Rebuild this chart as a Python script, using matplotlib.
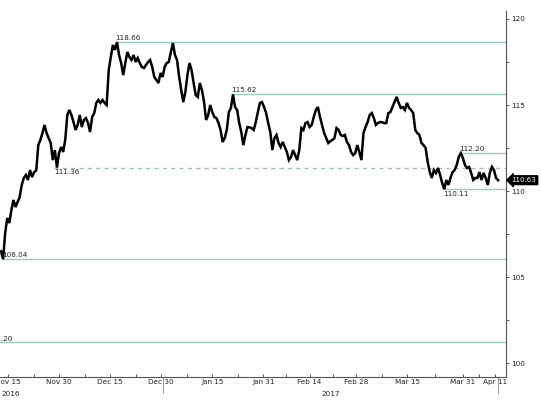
import numpy as np
import matplotlib
matplotlib.use("Agg")
import matplotlib.pyplot as plt
from matplotlib.ticker import FixedLocator, MultipleLocator
import matplotlib.transforms as mtransforms

# price trace, every half trading day (Nov 14 2016 -> Apr 12 2017)
precos = [
    106.5, 106.04, 107.56, 108.43, 108.14, 108.9, 109.48, 109.07, 109.36, 109.65,
    110.35, 110.76, 110.93, 110.64, 111.22, 110.81, 111.1, 111.2, 112.67, 112.97,
    113.37, 113.84, 113.37, 113.08, 112.79, 111.8, 112.38, 111.36, 112.2, 112.56,
    112.27, 112.97, 114.42, 114.71, 114.42, 114.0, 113.55, 113.84, 114.42, 113.72,
    114.13, 114.24, 113.95, 113.43, 114.3, 114.53, 115.12, 115.29, 115.12,
    # dezembro
    115.29, 115.12, 115.0, 117.03, 117.79, 118.49, 118.2, 118.66, 117.9, 117.44,
    116.74, 117.44, 118.08, 117.79, 117.62, 117.91, 117.5, 117.73, 117.44, 117.21,
    117.15, 117.33, 117.5, 117.62, 117.21, 116.63, 116.45, 116.28, 116.86, 116.63,
    117.21, 117.44, 117.5, 118.08, 118.6, 117.9, 117.62, 116.63, 115.87, 115.17,
    115.76, 116.74, 117.44, 117.03, 116.28, 115.58, 115.47, 116.28,
    115.87, 115.2, 114.13, 114.4, 115.0,
    # janeiro
    114.59, 114.3, 114.24, 113.95, 113.55, 112.85, 113.08, 113.55, 114.59, 114.83,
    115.62, 114.88, 114.71, 113.95, 113.43, 112.67, 113.26, 113.72, 113.7, 113.66,
    113.55, 114.01, 114.59, 115.12, 115.17, 114.88, 114.53, 113.95, 113.43, 112.38,
    113.08, 113.26, 112.79, 112.56, 112.85, 112.56, 112.27, 111.8, 111.98, 112.38,
    112.09, 111.8, 112.38,
    # fevereiro
    113.66, 113.55, 113.95, 114.01, 113.72, 113.84, 114.3, 114.71, 114.88, 114.3,
    113.84, 113.37, 113.08, 112.79, 112.9, 112.97, 113.08, 113.66, 113.55, 113.26,
    113.2, 113.26, 112.85, 112.67, 112.27, 112.09, 112.2, 112.67, 112.27, 111.8,
    113.37, 113.72, 114.01, 114.42, 114.53, 114.24, 113.84, 113.95, 114.01, 114.0,
    113.95, 113.95, 114.53, 114.59, 114.88, 115.17, 115.47, 115.12, 114.83, 114.88,
    114.71, 115.12, 114.83,
    # marco / abril
    114.71, 114.53, 113.55, 113.37, 113.26, 112.79, 112.67, 112.5, 111.69, 111.1,
    110.76, 111.22, 111.05, 111.34, 110.93, 110.47, 110.11, 110.64, 110.35, 110.76,
    111.1, 111.22, 111.51, 111.98, 112.2, 111.92, 111.51, 111.34, 111.4, 111.05,
    110.64, 110.76, 110.76, 111.1, 110.64, 111.05, 110.76, 110.35, 111.05, 111.4,
    111.22, 110.76, 110.63,
]

datas_ticks = ["2016-11-15", "2016-11-30", "2016-12-15", "2016-12-30", "2017-01-15",
               "2017-01-31", "2017-02-14", "2017-02-28", "2017-03-15", "2017-03-31",
               "2017-04-11"]
rotulos_ticks = ["Nov 15", "Nov 30", "Dec 15", "Dec 30", "Jan 15", "Jan 31",
                 "Feb 14", "Feb 28", "Mar 15", "Mar 31", "Apr 11"]

niveis = [118.66, 115.62, 112.20, 110.11, 106.04, 101.20]
nivel_pontilhado = 111.36
ultimo = 110.63

origem = "2016-11-15"
precos = np.array(precos)
# trading-day axis (Bloomberg style)
x = np.linspace(-1.5, 105.6, len(precos))
pos_ticks = np.array([np.busday_count(origem, d) for d in datas_ticks], dtype=float)

fig = plt.figure(figsize=(5.41, 4.04), dpi=100)
ax = fig.add_axes([0.0, 0.0668, 0.9353, 0.906])
ax.set_xlim(-1.72, 107.3)
ax.set_ylim(99.19, 120.465)

cor_nivel = "#9fc9c3"
cor_txt = "#222222"

for nv in niveis:
    idx = np.where(np.isclose(precos, nv))[0]
    if len(idx):
        x0 = x[idx[-1]]  # ultima ocorrencia
    else:
        x0 = ax.get_xlim()[0]
    ax.plot([x0, ax.get_xlim()[1]], [nv, nv], color=cor_nivel, lw=1.0, zorder=1)
    abaixo = nv in (110.11,)
    xt = x0 if len(idx) else x0 - 2.4
    if nv == 106.04:
        xt = x0 + 0.2
    ax.text(xt - 0.3, nv + (-0.12 if abaixo else 0.05), f"{nv:.2f}",
            fontsize=5.2, color=cor_txt, ha="left",
            va="top" if abaixo else "bottom", zorder=4)

idx = np.where(np.isclose(precos, nivel_pontilhado))[0][0]
ax.plot([x[idx] - 0.6, ax.get_xlim()[1]], [nivel_pontilhado] * 2, color="#a9bdbd",
        lw=1.0, dashes=(3, 3), zorder=1)
ax.text(x[idx] - 0.6, nivel_pontilhado - 0.1, f"{nivel_pontilhado:.2f}", fontsize=5.2,
        color=cor_txt, ha="left", va="top", zorder=4)

ax.plot(x, precos, color="black", lw=1.8, solid_joinstyle="miter", zorder=3)

# spines
for s in ["left", "top"]:
    ax.spines[s].set_visible(False)
for s in ["right", "bottom"]:
    ax.spines[s].set_color("#555555")
    ax.spines[s].set_linewidth(0.8)

ax.yaxis.tick_right()
ax.yaxis.set_major_locator(MultipleLocator(5))
ax.yaxis.set_minor_locator(MultipleLocator(2.5))
ax.tick_params(axis="y", which="both", direction="out", length=2, width=0.7,
               colors="#555555", labelsize=5.2, labelcolor=cor_txt, pad=1.5)

ax.xaxis.set_major_locator(FixedLocator(pos_ticks))
ax.set_xticklabels(rotulos_ticks)
ax.xaxis.set_minor_locator(FixedLocator((pos_ticks[:-1] + pos_ticks[1:]) / 2))
ax.tick_params(axis="x", which="both", direction="in", length=2, width=0.7,
               colors="#555555", labelsize=5.2, labelcolor=cor_txt, pad=1.5)

trans = mtransforms.blended_transform_factory(ax.transData, ax.transAxes)
ax.text(0.5, -0.037, "2016", transform=trans, fontsize=5.2, color=cor_txt,
        ha="center", va="top")
ax.text(69.6, -0.037, "2017", transform=trans, fontsize=5.2, color=cor_txt,
        ha="center", va="top")
for xs in [33.5, x[-1]]:
    ax.plot([xs, xs], [0, -0.045], transform=trans, color="#888888", lw=0.6,
            clip_on=False)

# last value tag
ax.annotate(f"{ultimo:.2f}", xy=(1.0, ultimo), xycoords=("axes fraction", "data"),
            xytext=(4, 0), textcoords="offset points", fontsize=5, color="white",
            ha="left", va="center",
            bbox=dict(boxstyle="larrow,pad=0.2", fc="black", ec="black"))

fig.savefig("out.png", dpi=100)
